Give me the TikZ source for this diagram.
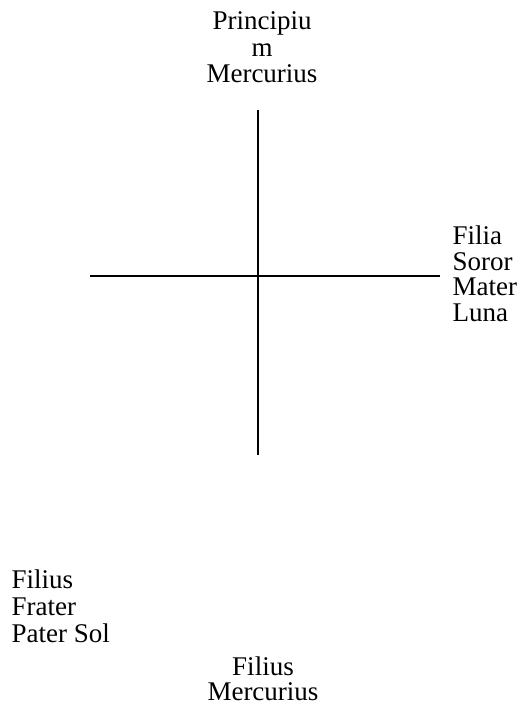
\documentclass[tikz,border=0pt]{standalone}
\usepackage{fontspec}
\setmainfont{Liberation Serif}

\begin{document}
\begin{tikzpicture}[x=1pt,y=-1pt,
  lbl/.style={inner sep=0pt,font=\fontsize{27}{#1}\selectfont},
  lbl/.default=26,
  axis/.style={line width=1.8pt}]
\useasboundingbox (0,0) rectangle (518,705);
% the cross
\coordinate (top) at (258,110); \coordinate (bot) at (258,455);
\coordinate (west) at (90,276); \coordinate (east) at (440,276);
\draw[axis] (top)--(bot); \draw[axis] (west)--(east);
% the four labels
\node[lbl=26.5,align=center,anchor=north] (merc) at (262,11.6) {Principiu\\m\\Mercurius};
\node[lbl=25.5,align=left,anchor=north west] (luna) at (452.5,225.6) {Filia\\Soror\\Mater\\Luna};
\node[lbl=27,align=left,anchor=north west] (sol) at (11.5,569.6) {Filius\\Frater\\Pater Sol};
\node[lbl=25,align=center,anchor=north] (filius) at (263,656.6) {Filius\\Mercurius};
\end{tikzpicture}
\end{document}
